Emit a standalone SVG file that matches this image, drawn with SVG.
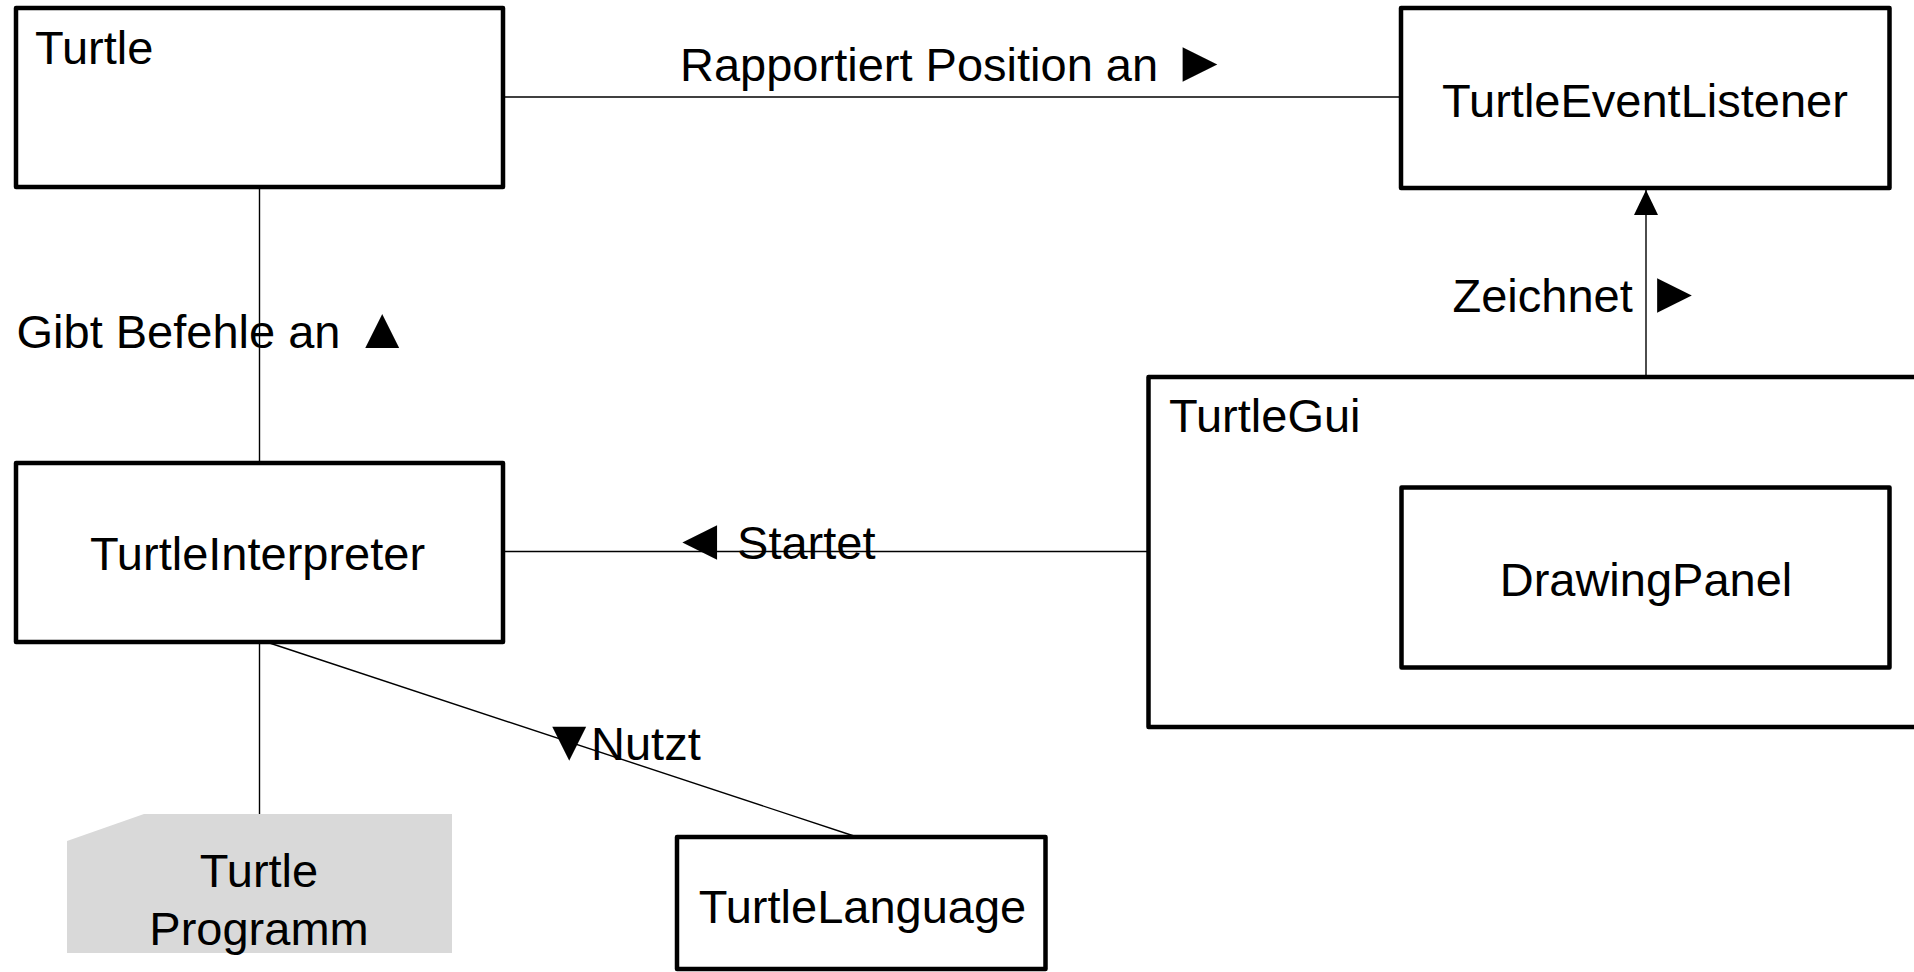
<svg xmlns="http://www.w3.org/2000/svg" width="1914" height="972" viewBox="0 0 1914 972">
  <style>
    .box { fill: #ffffff; stroke: #000000; stroke-width: 4.5; stroke-linejoin: round; }
    .note { fill: #d9d9d9; stroke: none; }
    .link { fill: none; stroke: #000000; stroke-width: 1.4; }
    .lbl { font-family: "Liberation Sans", Arial, sans-serif; font-size: 47px; fill: #000000; }
    .tri { font-size: 58px; }
    .mid { text-anchor: middle; }
  </style>
  <defs>
    <marker id="arrow" viewBox="0 0 25 24" refX="25" refY="12" markerWidth="25" markerHeight="24" markerUnits="userSpaceOnUse" orient="auto">
      <path d="M0,0 L25,12 L0,24 Z" fill="#000000"/>
    </marker>
  </defs>
  <rect width="1914" height="972" fill="#ffffff"/>

  <!-- connectors and their labels -->
  <g id="connectors">
    <line class="link" x1="503" y1="97" x2="1401" y2="97"/>
    <line class="link" x1="259.5" y1="187" x2="259.5" y2="463"/>
    <line class="link" x1="503" y1="551.5" x2="1148.5" y2="551.5"/>
    <line class="link" x1="259.5" y1="642" x2="259.5" y2="814"/>
    <line class="link" x1="266.5" y1="642" x2="857" y2="837"/>
    <line class="link" x1="1646" y1="487" x2="1646" y2="190" marker-end="url(#arrow)"/>
    <text class="lbl" x="680" y="80.5">Rapportiert Position an <tspan class="tri">►</tspan></text>
    <text class="lbl" x="16.5" y="347.5">Gibt Befehle an <tspan class="tri">▲</tspan></text>
    <text class="lbl" x="1452.5" y="311.5">Zeichnet <tspan class="tri">►</tspan></text>
    <text class="lbl" x="671" y="559"><tspan class="tri">◄</tspan><tspan x="724"> Startet</tspan></text>
    <text class="lbl" x="540.5" y="760"><tspan class="tri">▼</tspan><tspan x="591">Nutzt</tspan></text>
  </g>

  <g id="turtle">
    <rect class="box" x="16" y="8" width="487" height="179"/>
    <text class="lbl" x="35" y="64">Turtle</text>
  </g>

  <g id="turtle-event-listener">
    <rect class="box" x="1401" y="8" width="488.5" height="180"/>
    <text class="lbl mid" x="1645" y="117">TurtleEventListener</text>
  </g>

  <g id="turtle-interpreter">
    <rect class="box" x="16" y="463" width="487" height="179"/>
    <text class="lbl mid" x="257.5" y="569.5">TurtleInterpreter</text>
  </g>

  <g id="turtle-gui">
    <rect class="box" x="1148.5" y="377" width="800" height="350"/>
    <text class="lbl" x="1169" y="432">TurtleGui</text>
  </g>

  <g id="drawing-panel">
    <rect class="box" x="1401.5" y="487.5" width="488" height="180"/>
    <text class="lbl mid" x="1646" y="596">DrawingPanel</text>
  </g>

  <g id="turtle-language">
    <rect class="box" x="677" y="837" width="368.5" height="132"/>
    <text class="lbl mid" x="862.5" y="923">TurtleLanguage</text>
  </g>

  <g id="turtle-programm">
    <polygon class="note" points="144,814 452,814 452,953 67,953 67,841"/>
    <text class="lbl mid" x="259" y="887">Turtle</text>
    <text class="lbl mid" x="259" y="945">Programm</text>
  </g>
</svg>
